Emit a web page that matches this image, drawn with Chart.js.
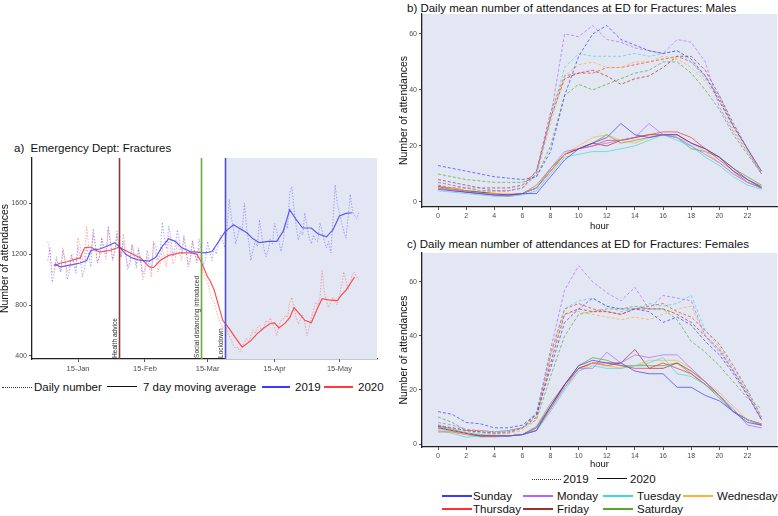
<!DOCTYPE html>
<html>
<head>
<meta charset="utf-8">
<script src="https://cdn.jsdelivr.net/npm/chart.js@4.4.1/dist/chart.umd.min.js"></script>
<style>
  body { margin: 0; background: #fff; font-family: "Liberation Sans", Arial, sans-serif; color: #111; }
  #page { position: relative; width: 778px; height: 516px; overflow: hidden; }
  canvas { position: absolute; }
  .txt { position: absolute; white-space: pre; line-height: 14px; height: 14px; }
  .ttl { font-size: 11.5px; }
  .leg { font-size: 11.5px; }
  .sw { position: absolute; height: 0; }
</style>
</head>
<body>
<div id="page">
  <div class="txt ttl" style="left:14px;top:141px">a)  Emergency Dept: Fractures</div>
  <div class="txt ttl" style="left:407px;top:1px">b) Daily mean number of attendances at ED for Fractures: Males</div>
  <div class="txt ttl" style="left:407px;top:237px">c) Daily mean number of attendances at ED for Fractures: Females</div>
  <canvas id="chartA" width="390" height="250" style="left:0;top:130px"></canvas>
  <canvas id="chartB" width="388" height="232" style="left:390px;top:0"></canvas>
  <canvas id="chartC" width="388" height="232" style="left:390px;top:238px"></canvas>
</div>
<script>
// ---- panel a: daily attendances, day 1 = 1 Jan (2020 calendar)
const dateTickDays = [15, 46, 75, 106, 136];
const dateTickLabels = ["15-Jan", "15-Feb", "15-Mar", "15-Apr", "15-May"];
const countTicks = [400, 800, 1200, 1600];

const daily2019 = [
  1150,1250,980,1050,1180,1100,1060, 1230,1150,1000,1060,1190,1120,1050,
  1260,1180,1020,1080,1250,1190,1100, 1400,1280,1130,1180,1330,1250,1200,
  1420,1300,1150,1230,1380,1260,1180, 1300,1200,1080,1120,1270,1180,1090,
  1250,1160,1040,1090,1230,1150,1070, 1300,1260,1150,1200,1450,1330,1240,
  1420,1320,1180,1260,1390,1290,1200, 1330,1230,1100,1150,1300,1210,1130,
  1320,1230,1110,1160,1300,1220,1150, 1250,1200,1280,1350,1300,1250,1400,
  1630,1480,1400,1280,1350,1420,1380, 1600,1420,1300,1150,1230,1300,1260,
  1470,1350,1250,1180,1230,1320,1280, 1440,1380,1300,1220,1300,1450,1400,
  1680,1730,1550,1420,1310,1380,1350, 1525,1420,1330,1280,1350,1310,1300,
  1445,1380,1300,1250,1300,1210,1450, 1745,1600,1520,1450,1380,1325,1480,
  1670,1550,1500,1480,1525
];
const daily2020 = [
  1300,1200,1050,1080,1150,1120,1060, 1250,1150,1060,1100,1200,1140,1090,
  1330,1260,1150,1180,1415,1250,1200, 1360,1260,1130,1180,1320,1230,1160,
  1400,1280,1160,1210,1350,1240,1170, 1360,1230,1100,1130,1280,1200,1120,
  1240,1130,1000,1050,1180,1090,1020, 1290,1180,1060,1110,1250,1170,1100,
  1340,1230,1120,1160,1300,1210,1150, 1350,1240,1120,1170,1310,1210,1150,
  1250,1150,1050,1000,980,900,850, 820,760,700,650,620,640,600,
  560,520,480,460,470,430,480, 500,540,510,560,600,580,620,
  640,600,620,680,660,700,650, 620,560,640,680,690,720,700,
  820,860,780,700,650,690,720, 660,560,620,700,760,820,800,
  860,1070,900,840,780,820,860, 830,800,880,950,1060,1000,920,
  980,1040,1060,1020,1000
];

const ma2019Days = [4,7,10,13,16,19,21,25,28,32,34,37,40,44,48,51,54,57,60,63,67,70,74,77,79,83,87,90,93,96,99,103,107,110,113,116,119,123,126,130,133,136,139,142];
const ma2019 = [1120,1100,1110,1120,1130,1150,1230,1240,1260,1290,1260,1200,1170,1150,1145,1175,1260,1320,1300,1250,1220,1215,1210,1220,1270,1375,1430,1400,1370,1320,1290,1300,1300,1380,1550,1470,1405,1405,1360,1335,1390,1500,1520,1525];
const ma2020Days = [4,7,10,14,16,18,21,25,30,34,39,44,48,50,53,57,62,67,70,72,75,76,78,82,85,88,91,95,98,101,104,106,108,111,113,115,118,120,123,126,128,131,135,137,139,143];
const ma2020 = [1110,1130,1140,1160,1170,1250,1255,1215,1230,1255,1210,1170,1100,1095,1150,1190,1210,1210,1200,1140,1020,995,920,680,615,540,470,520,575,620,655,660,620,660,700,780,720,680,660,780,850,840,835,880,915,1020];

const eventDays = [34, 72, 83];
const eventLabels = ["Health advice", "Social distancing introduced", "Lockdown"];
const eventColors = ["#8b3a3a", "#6aaa3a", "#5050d0"];

// ---- panels b, c: hourly means by weekday
const hours = [0,1,2,3,4,5,6,7,8,9,10,11,12,13,14,15,16,17,18,19,20,21,22,23];
const hourTicks = [0,2,4,6,8,10,12,14,16,18,20,22];
const meanTicks = [0, 20, 40, 60];
const dayNames = ["Sunday", "Monday", "Tuesday", "Wednesday", "Thursday", "Friday", "Saturday"];
const dayColors = ["#3b3bff", "#b266ff", "#3ddcdc", "#ffb13b", "#ff2f2f", "#a0302a", "#5ba52e"];

const males2019 = [
  [13,12,11,10,9,8.5,8,9,18,38,52,60,63,58,56,54,53,54,51,45,36,27,19,11],
  [7,6,5,5,4,4,5,10,30,60,59,63,58,57,55,54,53,58,57,50,34,25,18,10],
  [7,6,5,4,4,4,5,10,30,48,53,52,52,52,53,52,53,54,50,44,38,27,19,10],
  [5,5,4,4,3.5,4,5,10,28,45,49,50,48,48,50,50,52,51,48,43,36,26,18,10],
  [6,5,5,4,4,4,5,11,32,45,46,46,48,48,49,50,51,52,50,45,37,27,19,10],
  [8,7,6,5,5,5,6,11,30,44,46,47,45,42,44,45,48,52,52,47,38,28,19,11],
  [10,9,8,7.5,7,7,7,9,20,38,42,40,42,44,46,47,50,50,46,40,33,24,17,10]
];
const males2020 = [
  [4.5,4,3.5,3,2.5,2.5,3,3,9,15,19,21,23,28,24,23,24,24,21,19,16,11,8,5],
  [5,4,3.5,3,2.5,2.5,3,5,12,18,19,20,21,22,23,28,24,23,20,17,14,10,7,5],
  [4,3.5,3,2.5,2,2,2.5,4,10,16,17,18,18,19,20,22,24,22,20,16,13,9,6,4.5],
  [5,4.5,3.5,3,3,3,3,5,11,17,20,23,24,22,21,23,24,23,21,18,14,10,7,5],
  [5.5,4.5,3.5,3,2.5,2,3,5,11,17,19,20,22,22,23,24,25,25,23,19,15,11,7,5],
  [5,4.5,4,3.5,3,2.5,3,5,11,17,19,21,20,22,23,24,24,24,21,19,16,12,8,5.5],
  [5.5,5,4,3.5,3,2.5,3,6,12,17,19,21,24,21,22,23,24,23,19,18,16,12,9,6]
];
const females2019 = [
  [12,11,8,7.5,6,6,7,11,28,45,50,54,51,50,50,49,45,47,44,38,33,26,18,9],
  [8,7,5.5,5,4.5,5,6,11,35,57,66,60,56,53,58,50,55,54,53,40,34,27,18,9],
  [7,6,4.5,4,4,4.5,6,12,34,50,53,54,51,49,50,52,51,52,55,42,36,28,20,10],
  [6,5,4,3.5,3.5,4,5,9,32,48,49,48,47,46,47,46,48,50,51,40,35,27,19,9],
  [7,6,5,4.5,4,4,6,11,33,50,52,50,49,48,50,51,52,49,47,42,37,29,20,10],
  [6.5,6,5,4.5,4,4.5,6,10,30,48,50,49,49,48,50,50,50,48,45,40,35,27,19,9],
  [10,8,5,5,4.5,5,6,9,25,40,48,49,50,50,51,50,50,46,38,34,29,23,17,13]
];
const females2020 = [
  [6,5,4,3,3,3,3.5,5,14,22,29,31,30,30,27,26,26,21,21,18,16,12,8,7],
  [6.5,5,4,3,3,3,3.5,6,13,21,28,28,34,30,33,32,33,33,28,23,18,13,7,6],
  [5,4,2.5,3,3,3,3.5,5,12,20,27,29,28,28,29,30,32,26,25,22,18,12,9,7],
  [5.5,4.5,3.5,2.5,2.5,3,3.5,5,13,21,27,30,29,28,29,31,31,31,28,23,19,14,9,7],
  [4.5,4.5,3.5,3,3,3,3.5,5,13,22,28,30,30,29,28,28,30,28,26,22,18,12,9,7.5],
  [6,5,4,3,3,3,3.5,6,14,22,28,30,29,30,35,28,28,30,27,23,18,12,9,7],
  [7,5.5,4,3.5,3,3,3.5,6.5,15,22,29,32,31,29,29,29,29,30,26,22,17,12,9,7]
];

const FONT = '"Liberation Sans", Arial, sans-serif';
const SHADE = "#e3e7f3";

function rgba(hex, a) {
  const n = parseInt(hex.slice(1), 16);
  return `rgba(${n >> 16},${(n >> 8) & 255},${n & 255},${a})`;
}

function tickScale(extra) {
  return Object.assign({
    type: "linear",
    grid: { display: true, drawOnChartArea: false, tickLength: 3, color: "#555" },
    border: { display: true, color: "#222", width: 1.3 },
    ticks: { font: { family: FONT, size: 7 }, color: "#4d4d4d", padding: 2, autoSkip: false, maxRotation: 0,
      callback: (v) => String(v) }
  }, extra);
}

// shading after lockdown + event lines and their labels
const panelAExtras = {
  id: "panelAExtras",
  beforeDatasetsDraw(chart) {
    const { ctx, chartArea: a, scales: { x } } = chart;
    const lx = x.getPixelForValue(eventDays[2]);
    ctx.save();
    ctx.fillStyle = SHADE;
    ctx.fillRect(lx, a.top, a.right - lx, a.bottom - a.top);
    ctx.restore();
  },
  afterDatasetsDraw(chart) {
    const { ctx, chartArea: a, scales: { x } } = chart;
    ctx.save();
    eventDays.forEach((d, i) => {
      const px = Math.round(x.getPixelForValue(d)) + 0.5;
      ctx.strokeStyle = eventColors[i];
      ctx.lineWidth = 1.6;
      ctx.beginPath();
      ctx.moveTo(px, a.top);
      ctx.lineTo(px, a.bottom);
      ctx.stroke();
      ctx.save();
      ctx.translate(px - 1.5, a.bottom - 1);
      ctx.rotate(-Math.PI / 2);
      ctx.fillStyle = "#333";
      ctx.font = `6.6px ${FONT}`;
      ctx.textAlign = "left";
      ctx.textBaseline = "bottom";
      ctx.fillText(eventLabels[i], 0, 0);
      ctx.restore();
    });
    ctx.restore();
  }
};

const shadeArea = {
  id: "shadeArea",
  beforeDraw(chart) {
    const { ctx, chartArea: a } = chart;
    ctx.save();
    ctx.fillStyle = SHADE;
    ctx.fillRect(a.left, a.top, a.right - a.left, a.bottom - a.top);
    ctx.restore();
  }
};

const toPts = (xs, ys) => ys.map((v, i) => ({ x: xs[i], y: v }));
const dailyPts = (ys) => ys.map((v, i) => ({ x: i + 1, y: v }));

new Chart(document.getElementById("chartA"), {
  type: "line",
  data: {
    datasets: [
      { data: dailyPts(daily2019), borderColor: rgba("#5a5aff", 0.5), borderWidth: 1, borderDash: [1.5, 1.5] },
      { data: dailyPts(daily2020), borderColor: rgba("#ff5a5a", 0.5), borderWidth: 1, borderDash: [1.5, 1.5] },
      { data: toPts(ma2019Days, ma2019), borderColor: rgba("#4040ff", 0.85), borderWidth: 1.2 },
      { data: toPts(ma2020Days, ma2020), borderColor: rgba("#ff3030", 0.85), borderWidth: 1.2 }
    ]
  },
  options: {
    responsive: false,
    animation: false,
    elements: { point: { radius: 0 }, line: { tension: 0 } },
    layout: { padding: { top: 28, right: 13, left: 0, bottom: 0 } },
    plugins: { legend: { display: false }, tooltip: { enabled: false } },
    scales: {
      x: tickScale({
        min: -6.3, max: 153.4,
        afterFit: (s) => { s.height = 21; },
        afterBuildTicks: (s) => { s.ticks = dateTickDays.map(v => ({ value: v })); },
        ticks: { font: { family: FONT, size: 7.5 }, color: "#4d4d4d", padding: 2, autoSkip: false, maxRotation: 0,
          callback: (v, i) => dateTickLabels[i] }
      }),
      y: tickScale({
        min: 376, max: 1955,
        afterFit: (s) => { s.width = 32; },
        afterBuildTicks: (s) => { s.ticks = countTicks.map(v => ({ value: v })); },
        title: { display: true, text: "Number of attendances", font: { family: FONT, size: 10.5 }, color: "#111", padding: { top: -1, bottom: 0 } }
      })
    }
  },
  plugins: [panelAExtras]
});

function hourChart(id, s2019, s2020, yMin, yMax, padTop, xHeight) {
  const datasets = [];
  dayNames.forEach((name, i) => {
    datasets.push({ label: name + " 2019", data: toPts(hours, s2019[i]), borderColor: rgba(dayColors[i], 0.7), borderWidth: 1, borderDash: [3, 2] });
  });
  dayNames.forEach((name, i) => {
    datasets.push({ label: name + " 2020", data: toPts(hours, s2020[i]), borderColor: rgba(dayColors[i], 0.7), borderWidth: 1 });
  });
  return new Chart(document.getElementById(id), {
    type: "line",
    data: { datasets },
    options: {
      responsive: false,
      animation: false,
      elements: { point: { radius: 0 }, line: { tension: 0 } },
      layout: { padding: { top: padTop, right: 1, left: 0, bottom: 0 } },
      plugins: { legend: { display: false }, tooltip: { enabled: false } },
      scales: {
        x: tickScale({
          min: -1.14, max: 24.1,
          afterFit: (s) => { s.height = xHeight; },
          afterBuildTicks: (s) => { s.ticks = hourTicks.map(v => ({ value: v })); },
          title: { display: true, text: "hour", font: { family: FONT, size: 9.5 }, color: "#111", padding: { top: 0, bottom: 0 } }
        }),
        y: tickScale({
          min: yMin, max: yMax,
          afterFit: (s) => { s.width = 32; },
          afterBuildTicks: (s) => { s.ticks = meanTicks.map(v => ({ value: v })); },
          title: { display: true, text: "Number of attendances", font: { family: FONT, size: 10.5 }, color: "#111", padding: { top: 8, bottom: 0 } }
        })
      }
    },
    plugins: [shadeArea]
  });
}

hourChart("chartB", males2019, males2020, -1.8, 67.1, 14, 25);
hourChart("chartC", females2019, females2020, -1.1, 70.7, 15, 23);

// ---- legends (html)
const page = document.getElementById("page");
function swatch(x, y, w, color, style, thick) {
  const d = document.createElement("div");
  d.className = "sw";
  d.style.cssText = `left:${x}px;top:${y - thick / 2}px;width:${w}px;border-top:${thick}px ${style} ${color}`;
  page.appendChild(d);
}
function label(x, y, text) {
  const d = document.createElement("div");
  d.className = "txt leg";
  d.style.left = x + "px";
  d.style.top = (y - 7) + "px";
  d.textContent = text;
  page.appendChild(d);
}

swatch(2, 387, 30, "#333", "dotted", 1);
label(34, 387, "Daily number");
swatch(107, 387, 30, "#111", "solid", 1.5);
label(143, 387, "7 day moving average");
swatch(262, 387, 28, "#3b3bff", "solid", 2);
label(295, 387, "2019");
swatch(324, 387, 29, "#ff3b3b", "solid", 2);
label(358, 387, "2020");

swatch(532, 479, 29, "#333", "dotted", 1);
label(563, 479, "2019");
swatch(597, 479, 30, "#111", "solid", 1.5);
label(630, 479, "2020");

const legCols = [442, 523, 603, 683];
dayNames.forEach((name, i) => {
  const x = legCols[i % 4];
  const y = i < 4 ? 496 : 509;
  swatch(x, y, 30, dayColors[i], "solid", 2);
  label(x + (i % 4 === 0 ? 31 : 34), y, name);
});
</script>
</body>
</html>
